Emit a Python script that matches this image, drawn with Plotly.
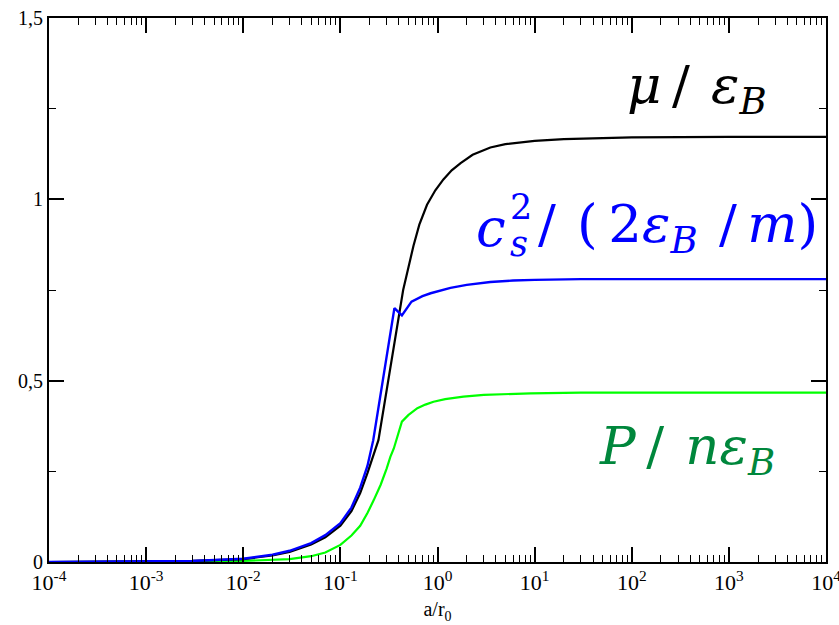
import plotly.graph_objects as go

# ---- data ----
x_mu = [1e-4, 1e-3, 3e-3, 0.01, 0.02, 0.03, 0.05, 0.07, 0.1, 0.13, 0.16, 0.19, 0.22, 0.2465,
        0.443, 0.5, 0.566, 0.65, 0.78, 0.95, 1.15, 1.4, 1.73, 2.3, 3.5, 5, 10, 20, 50, 100, 1e3, 1e4]
y_mu = [0.0, 0.0008, 0.003, 0.008, 0.018, 0.028, 0.048, 0.068, 0.10, 0.14, 0.19, 0.245, 0.30, 0.336,
        0.75, 0.815, 0.872, 0.93, 0.985, 1.025, 1.055, 1.08, 1.10, 1.123, 1.143, 1.152, 1.161, 1.166,
        1.170, 1.171, 1.172, 1.172]

x_cs = [1e-4, 1e-3, 3e-3, 0.01, 0.02, 0.03, 0.05, 0.07, 0.1, 0.13, 0.16, 0.19, 0.204, 0.218,
        0.36, 0.43, 0.54, 0.7, 0.85, 1.1, 1.36, 2, 3.5, 6, 10, 30, 100, 1e3, 1e4]
y_cs = [0.0, 0.001, 0.003, 0.009, 0.02, 0.031, 0.052, 0.074, 0.107, 0.15, 0.205, 0.265, 0.30, 0.336,
        0.70, 0.68, 0.718, 0.733, 0.741, 0.749, 0.756, 0.764, 0.772, 0.776, 0.778, 0.780, 0.780,
        0.780, 0.780]

x_p = [1e-4, 1e-3, 0.01, 0.02, 0.03, 0.05, 0.07, 0.1, 0.13, 0.16, 0.19, 0.22, 0.26, 0.3, 0.327,
       0.355, 0.43, 0.5, 0.62, 0.75, 0.91, 1.2, 1.85, 3, 5, 9.1, 30, 100, 1e3, 1e4]
y_p = [0.0, 0.0003, 0.003, 0.005, 0.008, 0.016, 0.026, 0.047, 0.073, 0.10, 0.135, 0.17, 0.213,
       0.258, 0.29, 0.313, 0.387, 0.405, 0.424, 0.434, 0.442, 0.449, 0.456, 0.461, 0.463, 0.465,
       0.467, 0.467, 0.467, 0.467]

x_ticks = [1e-4, 1e-3, 1e-2, 1e-1, 1e0, 1e1, 1e2, 1e3, 1e4]
x_ticktext = ["10<sup>-4</sup>", "10<sup>-3</sup>", "10<sup>-2</sup>", "10<sup>-1</sup>",
              "10<sup>0</sup>", "10<sup>1</sup>", "10<sup>2</sup>", "10<sup>3</sup>", "10<sup>4</sup>"]
y_ticks = [0, 0.5, 1, 1.5]
y_ticktext = ["0", "0,5", "1", "1,5"]
y_minor = [0.25, 0.75, 1.25]
x_minor = [k * 10.0 ** n for n in range(-4, 4) for k in range(2, 10)]

serif = "Liberation Serif"       # roman text (Times-like)
math = "DejaVu Serif"            # has a real serif italic for the formula labels
TS = "&#8201;"  # thin space

fig = go.Figure()
fig.add_trace(go.Scatter(x=x_p, y=y_p, mode="lines", line=dict(color="#00ff00", width=2.2)))
fig.add_trace(go.Scatter(x=x_mu, y=y_mu, mode="lines", line=dict(color="black", width=2.2)))
fig.add_trace(go.Scatter(x=x_cs, y=y_cs, mode="lines", line=dict(color="#0000ff", width=2.4)))

axis_common = dict(showline=True, linecolor="black", linewidth=2, mirror="allticks",
                   ticks="inside", tickcolor="black", tickwidth=1.5, ticklen=15,
                   showgrid=False, zeroline=False, automargin=False,
                   ticklabeloverflow="allow")

fig.update_xaxes(type="log", range=[-4, 4], tickmode="array", tickvals=x_ticks,
                 ticktext=x_ticktext, tickfont=dict(family=serif, size=22, color="black"),
                 minor=dict(tickmode="array", tickvals=x_minor, ticks="inside", ticklen=7,
                            tickwidth=1.2, tickcolor="black", showgrid=False),
                 title=dict(text="a/r<sub>0</sub>", font=dict(family=serif, size=20, color="black"),
                            standoff=8),
                 **axis_common)
fig.update_yaxes(range=[0, 1.5], tickmode="array", tickvals=y_ticks, ticktext=y_ticktext,
                 tickfont=dict(family=serif, size=20, color="black"),
                 minor=dict(tickmode="array", tickvals=y_minor, ticks="inside", ticklen=7,
                            tickwidth=1.2, tickcolor="black", showgrid=False),
                 **axis_common)

S = 53
SS = 35
def ann(x, y, text, size, color, xanchor="center"):
    fig.add_annotation(x=x, y=y, xref="paper", yref="paper", showarrow=False, text=text,
                       xanchor=xanchor, yanchor="middle",
                       font=dict(family=math, size=size, color=color))

# mu / eps_B
ann(0.8346, 0.871, "<i>μ</i>" + TS + "/" + TS + TS + "<i>ε</i><sub><i>B</i></sub>", S, "black")
# c_s^2 / (2 eps_B / m)
ann(0.569, 0.614, "<i>c</i>", S, "#0000ff")
ann(0.607, 0.652, "2", SS, "#0000ff")
ann(0.605, 0.584, "<i>s</i>", SS, "#0000ff")
ann(0.627, 0.614, "/" + TS + TS + "(" + TS + "2<i>ε</i><sub><i>B</i></sub>" + TS + TS + "/" + TS
    + "<i>m</i>)", S, "#0000ff", xanchor="left")
# P / n eps_B
ann(0.8211, 0.206, "<i>P</i>" + TS + "/" + TS + TS + "<i>nε</i><sub><i>B</i></sub>", S, "#00873c")

fig.update_layout(width=839, height=625, margin=dict(l=49, r=13, t=18, b=63),
                  plot_bgcolor="white", paper_bgcolor="white", showlegend=False)

fig.write_html("out.html")
